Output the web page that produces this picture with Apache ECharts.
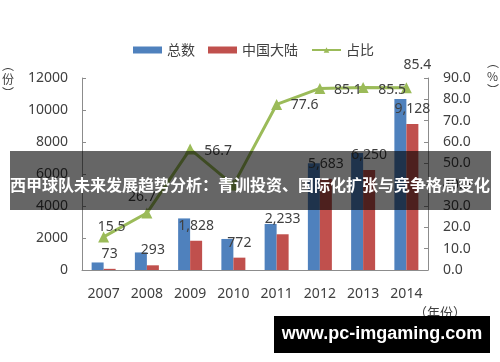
<!DOCTYPE html>
<html>
<head>
<meta charset="utf-8">
<script src="https://cdn.jsdelivr.net/npm/echarts@6/dist/echarts.min.js"></script>
<style>
html,body{margin:0;padding:0;background:#fff;}
#c{width:500px;height:362px;}
</style>
</head>
<body>
<div id="c"></div>
<script>
const categories = ['2007','2008','2009','2010','2011','2012','2013','2014'];
const totalValues = [471, 1097, 3224, 1940, 2878, 6678, 7310, 10689];
const mainlandValues = [73, 293, 1828, 772, 2233, 5683, 6250, 9128];
const ratioValues = [15.5, 26.7, 56.7, 39.8, 77.6, 85.1, 85.5, 85.4];
const leftTicks = {min: 0, max: 12000, interval: 2000};
const rightTicks = {min: 0, max: 90, interval: 10};
const seriesNames = ['总数', '中国大陆', '占比'];
const titleText = '西甲球队未来发展趋势分析：青训投资、国际化扩张与竞争格局变化';
const watermarkText = 'www.pc-imgaming.com';

// label placement (style only)
const ratioLabelOffsets = [[8,-10],[-5,-16],[28,2],null,[28,1],[28,2],[29,2],[11,-23]];

const numFont = '"Noto Sans", "Noto Sans CJK SC", sans-serif';
const cjkFont = '"Noto Sans CJK SC", "Noto Sans", sans-serif';
const txt = '#404040';
const axisCol = '#8c8c8c';

const fmt = v => String(v).replace(/\B(?=(\d{3})+(?!\d))/g, ',');

const ratioData = ratioValues.map((v, i) => {
  const off = ratioLabelOffsets[i];
  if (!off) return {value: v, label: {show: false}};
  return {value: v, label: {show: true, position: 'inside', offset: off}};
});

const chart = echarts.init(document.getElementById('c'), null, {renderer: 'canvas'});
chart.setOption({
  animation: false,
  backgroundColor: '#fff',
  legend: {
    data: [{name: seriesNames[0], icon: 'rect'}, {name: seriesNames[1], icon: 'rect'}, {name: seriesNames[2]}],
    left: 128, top: 38,
    itemWidth: 29, itemHeight: 7, itemGap: 13,
    textStyle: {fontFamily: cjkFont, fontSize: 14, color: txt}
  },
  grid: {left: 82, right: 72, top: 78, bottom: 92, containLabel: false},
  xAxis: {
    type: 'category', data: categories,
    axisLine: {lineStyle: {color: axisCol}},
    axisTick: {inside: true, length: 4, lineStyle: {color: axisCol}},
    axisLabel: {fontFamily: numFont, fontSize: 14, color: txt, margin: 17}
  },
  yAxis: [{
    type: 'value', min: leftTicks.min, max: leftTicks.max, interval: leftTicks.interval,
    splitLine: {show: false},
    axisLine: {show: true, lineStyle: {color: axisCol}},
    axisTick: {show: true, inside: true, length: 4, lineStyle: {color: axisCol}},
    axisLabel: {fontFamily: numFont, fontSize: 14, color: txt, margin: 14,
      formatter: v => String(v)}
  }, {
    type: 'value', min: rightTicks.min, max: rightTicks.max, interval: rightTicks.interval,
    splitLine: {show: false},
    axisLine: {show: true, lineStyle: {color: axisCol}},
    axisTick: {show: true, inside: true, length: 4, lineStyle: {color: axisCol}},
    axisLabel: {fontFamily: numFont, fontSize: 14, color: txt, margin: 15,
      formatter: v => v.toFixed(1)}
  }],
  series: [{
    name: seriesNames[0], type: 'bar', data: totalValues,
    barWidth: 12, barGap: '0%',
    itemStyle: {color: '#4F81BD'}
  }, {
    name: seriesNames[1], type: 'bar', data: mainlandValues,
    barWidth: 12,
    itemStyle: {color: '#C0504D'},
    label: {show: true, position: 'top', distance: 8, fontFamily: numFont, fontSize: 14, color: txt,
      formatter: p => fmt(p.value)}
  }, {
    name: seriesNames[2], type: 'line', yAxisIndex: 1, data: ratioData,
    symbol: 'triangle', symbolSize: 11, z: 5,
    lineStyle: {color: '#9BBB59', width: 3},
    itemStyle: {color: '#9BBB59'},
    label: {fontFamily: numFont, fontSize: 14, color: txt}
  }],
  graphic: [
    {type: 'text', left: 2, top: 58, z: 10,
      style: {text: '︵\n份\n︶', fontFamily: cjkFont, fontSize: 12, lineHeight: 14, fill: txt, align: 'center'}},
    {type: 'text', left: 487, top: 55, z: 10,
      style: {text: '︵\n%\n︶', fontFamily: cjkFont, fontSize: 12, lineHeight: 14, fill: txt, align: 'center'}},
    {type: 'text', left: 414, top: 306, z: 10,
      style: {text: '（年份）', fontFamily: cjkFont, fontSize: 13, fill: txt}},
    {type: 'rect', shape: {x: 10, y: 151, width: 481, height: 59}, z: 20,
      style: {fill: 'rgba(0,0,0,0.6)'}},
    {type: 'text', z: 21, x: 250, y: 185,
      style: {text: titleText, fontFamily: cjkFont, fontSize: 16, fontWeight: 'bold', fill: '#fff',
        align: 'center', verticalAlign: 'middle'}},
    {type: 'rect', shape: {x: 274, y: 316, width: 216, height: 37}, z: 20,
      style: {fill: '#000'}},
    {type: 'text', z: 21, x: 382, y: 334,
      style: {text: watermarkText, fontFamily: '"Liberation Sans", Arial, sans-serif', fontSize: 18, fontWeight: 'bold', fill: '#fff',
        align: 'center', verticalAlign: 'middle'}}
  ]
});
</script>
</body>
</html>
